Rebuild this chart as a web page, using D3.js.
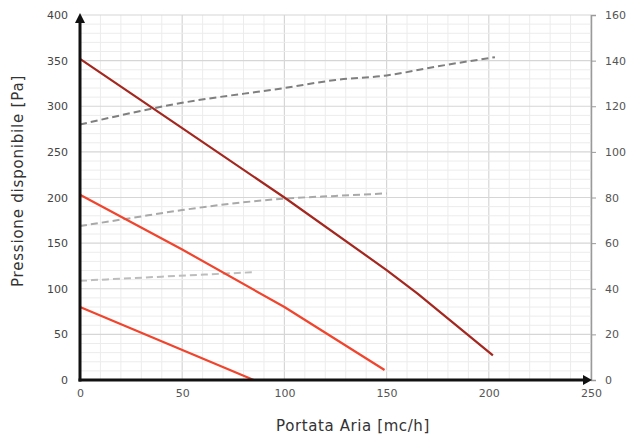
<!DOCTYPE html>
<html><head><meta charset="utf-8">
<script src="https://cdn.jsdelivr.net/npm/d3@7"></script>
<style>body{margin:0;background:#fff}svg{display:block}text{font-family:"DejaVu Sans",sans-serif}</style>
</head><body>
<svg id="c" width="627" height="435"></svg>
<script>
// Pressure curves (left axis, Pa) vs flow (mc/h)
const curveHighX = [0, 50, 100, 150, 165, 202];
const curveHighY = [352, 276, 200, 120.5, 95, 27];
const curveMidX = [0, 50, 100, 149];
const curveMidY = [203, 143, 80, 11];
const curveLowX = [0, 85];
const curveLowY = [80, 0];
// Dashed curves (right axis)
const dashHighX = [0, 50, 100, 125, 150, 175, 203];
const dashHighY = [112, 121.5, 128, 131.5, 133.5, 137.5, 141.5];
const dashMidX = [0, 25, 50, 78, 100, 125, 150];
const dashMidY = [67.5, 71, 74.5, 77.7, 79.5, 80.7, 81.8];
const dashLowX = [0, 40, 86];
const dashLowY = [43.5, 45.3, 47.3];
const xTicks = [0, 50, 100, 150, 200, 250];
const yTicks = [0, 50, 100, 150, 200, 250, 300, 350, 400];
const y2Ticks = [0, 20, 40, 60, 80, 100, 120, 140, 160];
const xLabel = "Portata Aria [mc/h]";
const yLabel = "Pressione disponibile [Pa]";

const svg = d3.select("#c");
const L = 80, R = 591, T = 15, B = 380;
const x = d3.scaleLinear().domain([0, 250]).range([L, R]);
const y = d3.scaleLinear().domain([0, 400]).range([B, T]);
const y2 = d3.scaleLinear().domain([0, 160]).range([B, T]);

// grid
const g = svg.append("g");
d3.range(0, 251, 10).forEach(v => {
  g.append("line").attr("x1", x(v)).attr("x2", x(v)).attr("y1", T).attr("y2", B)
   .attr("stroke", v % 50 === 0 ? "#d6d6d6" : "#ececec").attr("stroke-width", v % 50 === 0 ? 1.2 : 1);
});
d3.range(0, 401, 10).forEach(v => {
  g.append("line").attr("x1", L).attr("x2", R).attr("y1", y(v)).attr("y2", y(v))
   .attr("stroke", v % 50 === 0 ? "#d6d6d6" : "#ececec").attr("stroke-width", v % 50 === 0 ? 1.2 : 1);
});

// right axis
const ax2 = svg.append("g").attr("transform", `translate(${R},0)`)
  .call(d3.axisRight(y2).tickValues(y2Ticks).tickSize(5).tickPadding(9));
ax2.select(".domain").attr("stroke", "#9a9a9a").attr("stroke-width", 1.5);
ax2.selectAll(".tick line").attr("stroke", "#9a9a9a");
ax2.selectAll("text").attr("fill", "#555").attr("font-size", 11).attr("font-family", "DejaVu Sans");

// left tick labels
const ax = svg.append("g").attr("transform", `translate(${L},0)`)
  .call(d3.axisLeft(y).tickValues(yTicks).tickSize(0).tickPadding(12));
ax.select(".domain").remove();
ax.selectAll("text").attr("fill", "#444").attr("font-size", 11).attr("font-family", "DejaVu Sans");

const axb = svg.append("g").attr("transform", `translate(0,${B})`)
  .call(d3.axisBottom(x).tickValues(xTicks).tickSize(0).tickPadding(9));
axb.select(".domain").remove();
axb.selectAll("text").attr("fill", "#555").attr("font-size", 11).attr("font-family", "DejaVu Sans");

// data lines
function draw(xs, ys, sc, color, w, dash, curve) {
  const pts = xs.map((v, i) => [x(v), sc(ys[i])]);
  const p = svg.append("path").attr("d", d3.line().curve(curve)(pts))
    .attr("fill", "none").attr("stroke", color).attr("stroke-width", w)
    .attr("stroke-linejoin", "round");
  if (dash) p.attr("stroke-dasharray", dash);
}
draw(dashHighX, dashHighY, y2, "#7f7f7f", 2, "7,4", d3.curveMonotoneX);
draw(dashMidX, dashMidY, y2, "#a9a9a9", 2, "7,4", d3.curveMonotoneX);
draw(dashLowX, dashLowY, y2, "#bdbdbd", 2, "7,4", d3.curveMonotoneX);
draw(curveHighX, curveHighY, y, "#a3271f", 2.2, null, d3.curveLinear);
draw(curveMidX, curveMidY, y, "#f0442d", 2.2, null, d3.curveLinear);
draw(curveLowX, curveLowY, y, "#f0442d", 2.2, null, d3.curveLinear);

// black axes with arrows
svg.append("line").attr("x1", L).attr("x2", L).attr("y1", B + 1.5).attr("y2", T + 6)
  .attr("stroke", "#111").attr("stroke-width", 3);
svg.append("path").attr("d", `M${L - 5},${T + 8} L${L},${T - 2} L${L + 5},${T + 8} Z`).attr("fill", "#111");
svg.append("line").attr("x1", L - 1.5).attr("x2", R - 6).attr("y1", B).attr("y2", B)
  .attr("stroke", "#111").attr("stroke-width", 3);
svg.append("path").attr("d", `M${R - 8},${B - 5} L${R + 1},${B} L${R - 8},${B + 5} Z`).attr("fill", "#111");

// titles
svg.append("text").attr("x", 353).attr("y", 431)
  .attr("text-anchor", "middle").attr("fill", "#333").attr("font-size", 15)
  .attr("letter-spacing", 0.6).text(xLabel);
svg.append("text").attr("transform", "translate(23,181) rotate(-90)")
  .attr("text-anchor", "middle").attr("fill", "#333").attr("font-size", 15)
  .attr("letter-spacing", 0.8).text(yLabel);
</script>
</body></html>
